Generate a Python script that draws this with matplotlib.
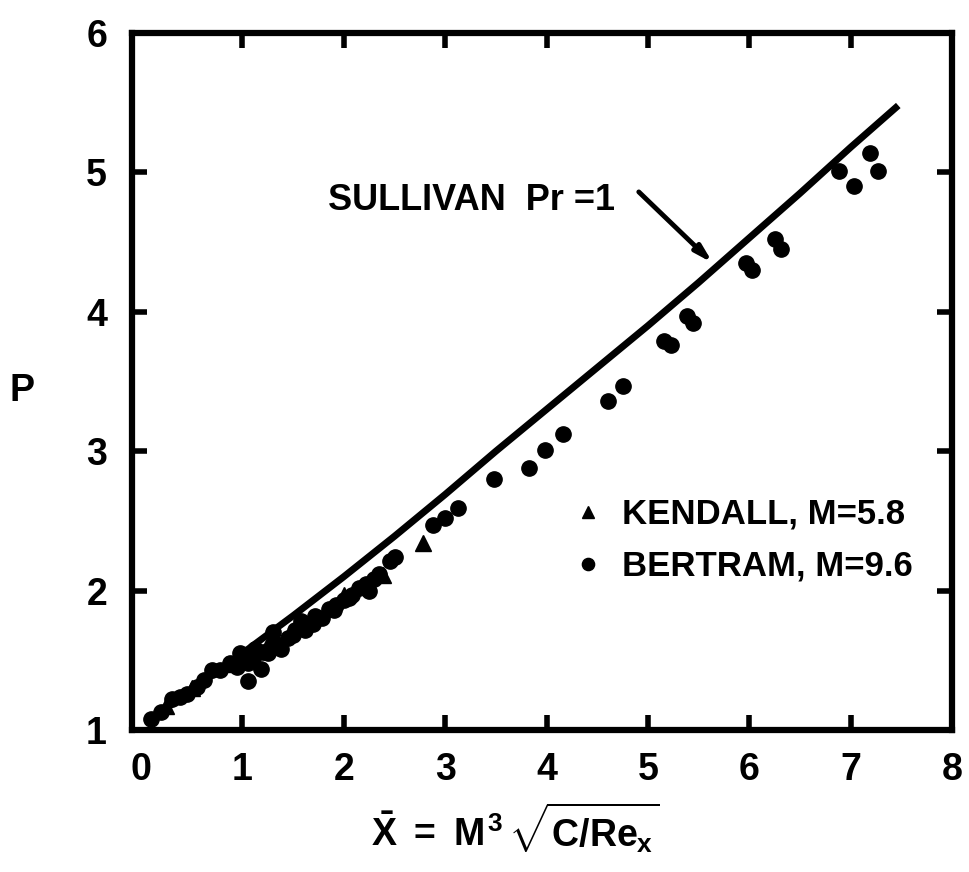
import matplotlib
matplotlib.use("Agg")
import matplotlib.pyplot as plt

plt.rcParams['font.family'] = ['Liberation Sans', 'DejaVu Sans']
plt.rcParams['font.weight'] = 'bold'
plt.rcParams['mathtext.fontset'] = 'custom'
plt.rcParams['mathtext.rm'] = 'Liberation Sans:bold'
plt.rcParams['mathtext.it'] = 'Liberation Sans:bold'
plt.rcParams['mathtext.bf'] = 'Liberation Sans:bold'

# Sullivan theory curve, Pr = 1
sullivan_x = [0.05, 0.5, 1.0, 1.5, 2.0, 2.5, 3.0, 3.5, 4.0, 4.5, 5.0,
              5.5, 6.0, 6.5, 7.0, 7.47]
sullivan_p = [1.05, 1.29, 1.55, 1.82, 2.10, 2.39, 2.69, 3.00, 3.30, 3.60,
              3.90, 4.21, 4.53, 4.85, 5.18, 5.48]

# Kendall, M = 5.8 (triangles)
kendall_x = [0.25, 0.50, 0.85, 1.25, 1.60, 2.00, 2.39, 2.78]
kendall_p = [1.17, 1.30, 1.47, 1.62, 1.74, 1.97, 2.11, 2.34]

# Bertram, M = 9.6 (circles)
bertram_x = [0.10, 0.20, 0.30, 0.38, 0.45, 0.55, 0.62, 0.70, 0.78, 0.88,
             0.95, 0.98, 1.05, 1.05, 1.10, 1.12, 1.18, 1.20, 1.25, 1.30,
             1.33, 1.38, 1.45, 1.50, 1.52, 1.58, 1.62, 1.65, 1.70, 1.72,
             1.78, 1.85, 1.90, 1.92, 2.00, 2.05, 2.08, 2.15, 2.22, 2.25,
             2.30, 2.35, 2.46, 2.50, 2.88, 3.00, 3.13, 3.48, 3.83, 3.98,
             4.16, 4.61, 4.75, 5.16, 5.23, 5.39, 5.44, 5.97, 6.03, 6.25,
             6.31, 6.89, 7.03, 7.19, 7.27]
bertram_p = [1.08, 1.13, 1.22, 1.24, 1.26, 1.31, 1.36, 1.43, 1.43, 1.48,
             1.45, 1.55, 1.35, 1.48, 1.52, 1.58, 1.44, 1.56, 1.55, 1.70,
             1.62, 1.58, 1.66, 1.68, 1.72, 1.78, 1.72, 1.76, 1.76, 1.82,
             1.80, 1.87, 1.86, 1.90, 1.93, 1.95, 1.97, 2.02, 2.05, 2.00,
             2.08, 2.12, 2.21, 2.24, 2.47, 2.52, 2.59, 2.80, 2.88, 3.01,
             3.12, 3.36, 3.47, 3.79, 3.76, 3.97, 3.92, 4.35, 4.30, 4.52,
             4.45, 5.01, 4.90, 5.14, 5.01]

x_ticks = [0, 1, 2, 3, 4, 5, 6, 7, 8]
y_ticks = [1, 2, 3, 4, 5, 6]

fig = plt.figure(figsize=(9.69, 8.72), dpi=100)
ax = fig.add_axes([132 / 969, 1 - 730 / 872, 820 / 969, 697 / 872])

ax.plot(sullivan_x, sullivan_p, color='black', lw=5, solid_capstyle='butt',
        solid_joinstyle='round', zorder=2)
ax.plot(bertram_x, bertram_p, 'o', color='black', ms=11, ls='none', zorder=3,
        label='BERTRAM, M=9.6')
ax.plot(kendall_x, kendall_p, '^', color='black', ms=11, ls='none', zorder=3,
        label='KENDALL, M=5.8')

ax.set_xlim(-0.09, 8.0)
ax.set_ylim(1, 6)
ax.set_xticks(x_ticks)
ax.set_yticks(y_ticks)
ax.set_xticklabels([str(v) for v in x_ticks])
ax.set_yticklabels([str(v) for v in y_ticks])

for s in ax.spines.values():
    s.set_linewidth(4.5)
ax.tick_params(direction='in', length=11, width=4, top=True, right=True,
               labelsize=27, pad=16)
ax.tick_params(axis='y', pad=18)
ax.xaxis.get_major_ticks()[0].tick1line.set_visible(False)
ax.xaxis.get_major_ticks()[0].tick2line.set_visible(False)

# annotation
ax.text(1.84, 4.80, 'SULLIVAN  Pr =1', fontsize=26, fontweight='bold',
        va='center', ha='left')
ax.annotate('', xy=(5.64, 4.35), xytext=(4.91, 4.86),
            arrowprops=dict(arrowstyle='-|>,head_length=1.0,head_width=0.28',
                            lw=3.5, color='black', shrinkA=0, shrinkB=0))

handles, labels = ax.get_legend_handles_labels()
leg = ax.legend(handles[::-1], labels[::-1], loc='upper left',
                bbox_to_anchor=(0.505, 0.378), frameon=False,
                prop={'size': 25, 'weight': 'bold'}, handlelength=0.6,
                handletextpad=0.7, labelspacing=0.55, markerscale=0.8)

fig.text(22 / 969, 1 - 391 / 872, 'P', fontsize=27, fontweight='bold',
         ha='center', va='center')
fig.text(515 / 969, 1 - 828 / 872, r'$\bar{X}\ =\ M^{3}\,\sqrt{C/Re_{x}}$',
         fontsize=27, ha='center', va='center')

fig.savefig('out.png', dpi=100)
